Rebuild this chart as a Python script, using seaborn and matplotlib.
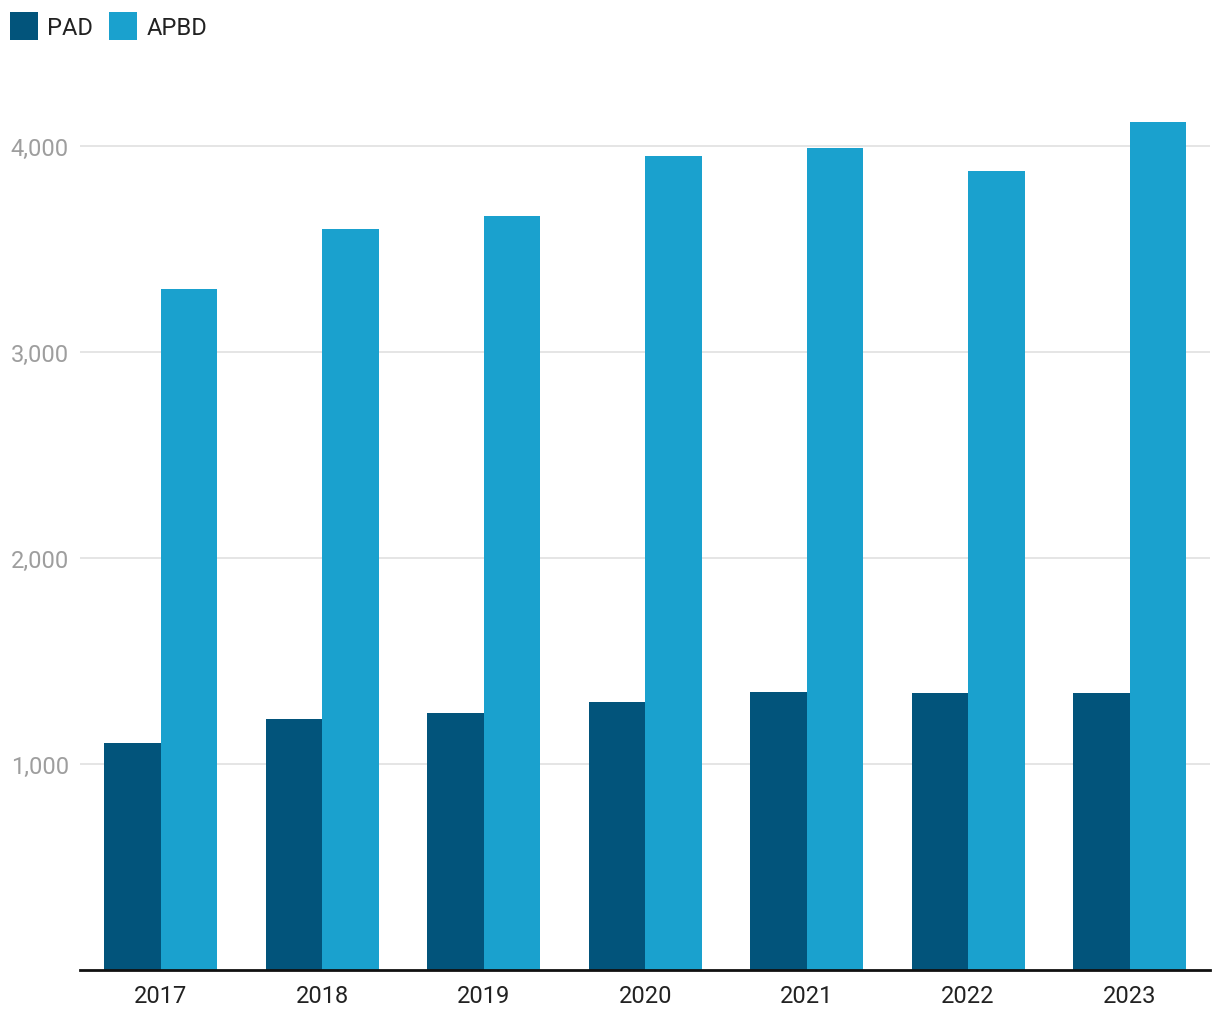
import numpy as np
import pandas as pd
import matplotlib
matplotlib.use("Agg")
import matplotlib.pyplot as plt
import seaborn as sns
from matplotlib.patches import Patch
from matplotlib.ticker import FuncFormatter

# %% data
years = ["2017", "2018", "2019", "2020", "2021", "2022", "2023"]
pad = [1102, 1218, 1248, 1301, 1350, 1345, 1345]
apbd = [3306, 3597, 3660, 3947, 3990, 3874, 4112]
series = ["PAD", "APBD"]
colors = ["#02547b", "#1aa1ce"]

df = pd.DataFrame({"year": years * 2,
                   "value": pad + apbd,
                   "series": ["PAD"] * len(years) + ["APBD"] * len(years)})

# %% plot
sns.set_style("white")
plt.rcParams["font.family"] = ["Roboto", "DejaVu Sans"]

fig = plt.figure(figsize=(12.2, 10.2), dpi=100)
ax = fig.add_axes([0.0656, 0.048, 0.9264, 0.869])

sns.barplot(data=df, x="year", y="value", hue="series", hue_order=series,
            palette=colors, width=0.7, saturation=1, ax=ax, legend=False)
for p in ax.patches:
    p.set_linewidth(0)

ax.set_xlim(-0.5, 6.5)
ax.set_ylim(0, 4300)
ax.set_yticks([1000, 2000, 3000, 4000])
ax.yaxis.set_major_formatter(FuncFormatter(lambda v, _: f"{int(v):,}"))
ax.grid(axis="y", color="#e3e3e3", linewidth=1.3)
ax.set_axisbelow(True)
ax.set_xlabel("")
ax.set_ylabel("")
for s in ["top", "right", "left"]:
    ax.spines[s].set_visible(False)
ax.spines["bottom"].set_color("#111111")
ax.spines["bottom"].set_linewidth(2)
ax.tick_params(axis="y", length=0, pad=8, labelsize=17, labelcolor="#9e9e9e")
ax.tick_params(axis="x", length=0, pad=10, labelsize=17, labelcolor="#222222")

handles = [Patch(facecolor=c, edgecolor="none", label=l) for c, l in zip(colors, series)]
fig.legend(handles=handles, loc="upper left", bbox_to_anchor=(0.0, 0.997), ncol=2,
           frameon=False, fontsize=17, handlelength=1.2, handleheight=1.45,
           handletextpad=0.38, columnspacing=0.68, borderaxespad=0.0,
           borderpad=0.42, labelcolor="#222222")

fig.savefig("out.png", dpi=100)
